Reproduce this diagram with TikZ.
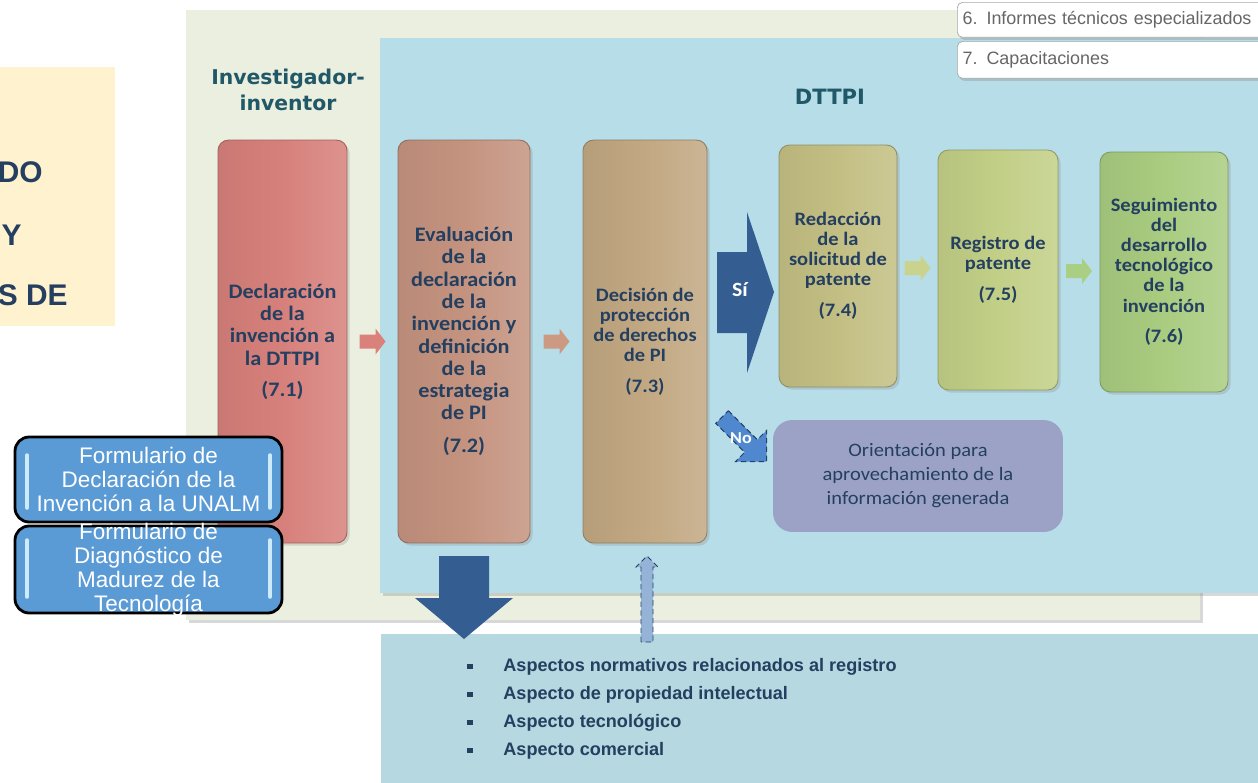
\documentclass[tikz,border=0pt]{standalone}
\usepackage{fontspec}
\setmainfont{Liberation Sans}
\newfontfamily\calibri{Carlito}[FakeStretch=1.08]
\newfontfamily\verdana{DejaVu Sans}
\usetikzlibrary{positioning,shadows,calc}

\definecolor{panelverde}{HTML}{EBEFDF}
\definecolor{panelazul}{HTML}{B7DDE8}
\definecolor{listaazul}{HTML}{B6D8E0}
\definecolor{crema}{HTML}{FFF2CF}
\definecolor{tinta}{HTML}{243F60}
\definecolor{titulo}{HTML}{215868}
\definecolor{flecha}{HTML}{345E92}
\definecolor{flechano}{HTML}{4F88CE}
\definecolor{flechaup}{HTML}{95B3D7}
\definecolor{pasoa}{HTML}{D7807B}
\definecolor{pasob}{HTML}{C4937F}
\definecolor{pasoc}{HTML}{C2A882}
\definecolor{pasod}{HTML}{C3BF83}
\definecolor{pasoe}{HTML}{C2CF86}
\definecolor{pasof}{HTML}{A9CC80}
\definecolor{flechaa}{HTML}{D9817A}
\definecolor{flechab}{HTML}{CC9A82}
\definecolor{flechad}{HTML}{C9D38E}
\definecolor{flechae}{HTML}{A8CF83}
\definecolor{orienta}{HTML}{9CA2C6}
\definecolor{formu}{HTML}{5B9BD5}
\definecolor{brillo}{HTML}{CDEBFB}

\tikzset{
  paso/.style={draw=#1!75!black, line width=0.5pt, rounded corners=6pt,
    left color=#1!94!black, right color=#1!85!white, middle color=#1,
    align=center, text=tinta, inner sep=2pt,
    font=\calibri\bfseries\fontsize{11.7}{12.7}\selectfont,
    drop shadow={opacity=0.25, shadow xshift=1.5pt, shadow yshift=-1.5pt}},
  pasochico/.style={paso=#1, font=\calibri\bfseries\fontsize{10.8}{11.4}\selectfont},
  formulario/.style={draw=black, line width=1.6pt, fill=formu, rounded corners=8pt,
    minimum width=5.34cm, inner sep=0pt},
  formtexto/.style={text=white, align=center, font=\fontsize{12.8}{13.7}\selectfont},
  informe/.style={draw=gray!70, fill=white, rounded corners=3pt, text width=6.6cm,
    align=left, text=gray!80!black, font=\fontsize{10.2}{12}\selectfont, inner xsep=3pt,
    drop shadow={opacity=0.3, shadow xshift=1pt, shadow yshift=-1.5pt}},
  pics/flechita/.style={code={
    \fill[#1] (-13,-7) -- (3,-7) -- (3,-13) -- (13,0) -- (3,13) -- (3,7) -- (-13,7) -- cycle;}},
}

\begin{document}
\begin{tikzpicture}[x=0.02cm, y=-0.02cm]
\useasboundingbox (0,0) rectangle (1258,782);
\clip (0,0) rectangle (1258,782);
\fill[white] (0,0) rectangle (1258,782);

% fondos
\fill[crema] (0,67) rectangle (115,326);
\node[anchor=base east, inner sep=0, text=tinta, font=\bfseries\fontsize{17}{20}\selectfont] (do) at (43,182) {DO};
\node[anchor=base east, inner sep=0, text=tinta, font=\bfseries\fontsize{17}{20}\selectfont] (y) at (22,245) {Y};
\node[anchor=base east, inner sep=0, text=tinta, font=\bfseries\fontsize{17}{20}\selectfont] (sde) at (68,305) {S DE};

\path[fill=panelverde, drop shadow={opacity=0.3, shadow xshift=1.5pt, shadow yshift=-1.5pt}] (186,10) rectangle (1200,620);
\path[fill=panelazul, drop shadow={opacity=0.3, shadow xshift=1.5pt, shadow yshift=-1.5pt}] (380,38) rectangle (1275,593);
\fill[listaazul] (381,634) rectangle (1275,790);

% titulos
\node[font=\verdana\bfseries\fontsize{11.6}{14.8}\selectfont, text=titulo, align=center] (inv) at (288,90) {Investigador-\\inventor};
\node[font=\verdana\bfseries\fontsize{12}{14}\selectfont, text=titulo] (dttpi) at (830,97) {DTTPI};

\node[informe, anchor=north west, minimum height=0.7cm] (inf6) at (957,2) {6.\hspace{0.5em}Informes técnicos especializados};
\node[informe, anchor=north west, minimum height=0.74cm] (inf7) at (957,41) {7.\hspace{0.5em}Capacitaciones};

% pasos
\node[paso=pasoa, minimum width=2.58cm, minimum height=8.06cm] (b1) at (282.5,341.5)
  {Declaración\\de la\\invención a\\la DTTPI\\[5pt](7.1)};
\node[paso=pasob, minimum width=2.64cm, minimum height=8.06cm] (b2) at (464,341.5)
  {Evaluación\\de la\\declaración\\de la\\invención y\\definición\\de la\\estrategia\\de PI\\[6pt](7.2)};
\node[pasochico=pasoc, minimum width=2.48cm, minimum height=8.06cm] (b3) at (645,341.5)
  {Decisión de\\protección\\de derechos\\de PI\\[6pt](7.3)};
\node[pasochico=pasod, minimum width=2.36cm, minimum height=4.84cm] (b4) at (838,266)
  {Redacción\\de la\\solicitud de\\patente\\[6pt](7.4)};
\node[pasochico=pasoe, minimum width=2.4cm, minimum height=4.8cm] (b5) at (998,270)
  {Registro de\\patente\\[6pt](7.5)};
\node[pasochico=pasof, minimum width=2.56cm, minimum height=4.8cm] (b6) at (1164,272)
  {Seguimiento\\del\\desarrollo\\tecnológico\\de la\\invención\\[6pt](7.6)};

\pic at ($(b1.east)!0.5!(b2.west)$) {flechita=flechaa};
\pic at ($(b2.east)!0.5!(b3.west)$) {flechita=flechab};
\pic at ($(b4.east)!0.5!(b5.west)$) {flechita=flechad};
\pic at ($(b5.east)!0.5!(b6.west)$) {flechita=flechae};

% decision
\fill[flecha] (717,252) -- (747,252) -- (747,212) -- (774,292) -- (747,373) -- (747,333) -- (717,333) -- cycle;
\node[text=white, font=\calibri\bfseries\fontsize{11.5}{12}\selectfont] (si) at (740,290) {Sí};

\begin{scope}[shift={(722,417)}, rotate=-45]
  \draw[fill=flechano, draw=flecha!70!black, densely dashed, line width=0.6pt]
    (0,-9) -- (41,-9) -- (41,-22) -- (63,0) -- (41,22) -- (41,9) -- (0,9) -- cycle;
\end{scope}
\node[text=white, font=\calibri\bfseries\fontsize{9.5}{10}\selectfont] (no) at (741,438) {No};

\node[fill=orienta, rounded corners=11pt, minimum width=5.8cm, minimum height=2.24cm, align=center,
  text=tinta, font=\calibri\fontsize{10.8}{13.7}\selectfont] (orient) at (918,476)
  {Orientación para\\aprovechamiento de la\\información generada};

% flechas a la lista
\fill[flecha] (439,556) -- (489,556) -- (489,598) -- (513,598) -- (464,639) -- (415,598) -- (439,598) -- cycle;
\draw[fill=flechaup, draw=flecha!70!black, densely dashed, line width=0.5pt]
  (641,642) -- (641,567) -- (636,567) -- (647,556) -- (658,567) -- (653,567) -- (653,642) -- cycle;

\node[anchor=west, inner sep=0, align=left, text=tinta, font=\bfseries\fontsize{10.3}{15.9}\selectfont] (lista) at (467,709)
  {\makebox[20.5pt][l]{\raisebox{1.6pt}{\rule{3pt}{3pt}}}Aspectos normativos relacionados al registro\\
   \makebox[20.5pt][l]{\raisebox{1.6pt}{\rule{3pt}{3pt}}}Aspecto de propiedad intelectual\\
   \makebox[20.5pt][l]{\raisebox{1.6pt}{\rule{3pt}{3pt}}}Aspecto tecnológico\\
   \makebox[20.5pt][l]{\raisebox{1.6pt}{\rule{3pt}{3pt}}}Aspecto comercial};

% formularios
\node[formulario, minimum height=1.7cm] (f1) at (148.5,479.5) {};
\draw[brillo, line width=2pt, line cap=round] (27,455) -- (27,508);
\draw[brillo, line width=2pt, line cap=round] (270,455) -- (270,508);
\node[formtexto] (t1) at (f1) {Formulario de\\Declaración de la\\Invención a la UNALM};
\node[formulario, minimum height=1.74cm] (f2) at (148.5,569.5) {};
\draw[brillo, line width=2pt, line cap=round] (27,540) -- (27,597);
\draw[brillo, line width=2pt, line cap=round] (270,540) -- (270,597);
\node[formtexto] (t2) at (f2) {Formulario de\\Diagnóstico de\\Madurez de la\\Tecnología};
\end{tikzpicture}
\end{document}
